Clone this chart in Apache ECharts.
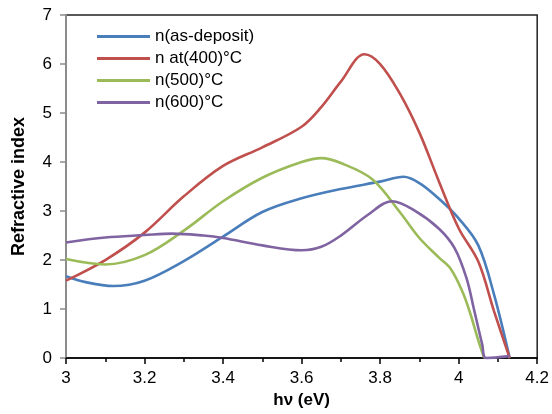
<!DOCTYPE html>
<html>
<head>
<meta charset="utf-8">
<script src="https://cdn.jsdelivr.net/npm/echarts@6/dist/echarts.min.js"></script>
<style>
html,body{margin:0;padding:0;background:#fff;}
#c{width:552px;height:414px;}
</style>
</head>
<body>
<div id="c"></div>
<script>
const seriesNames = ['n(as-deposit)', 'n at(400)°C', 'n(500)°C', 'n(600)°C'];
const colors = ['#4A7EBB', '#C0504D', '#9BBB59', '#8064A2'];

const xAsDep = [3.0, 3.05, 3.12, 3.2, 3.3, 3.4, 3.5, 3.6, 3.7, 3.8, 3.86, 3.9, 3.95, 4.0, 4.05, 4.09, 4.13];
const yAsDep = [1.67, 1.55, 1.47, 1.58, 1.98, 2.48, 2.98, 3.26, 3.45, 3.6, 3.7, 3.57, 3.25, 2.85, 2.3, 1.3, 0];

const x400 = [3.0, 3.1, 3.2, 3.3, 3.4, 3.5, 3.6, 3.65, 3.7, 3.76, 3.8, 3.85, 3.9, 3.95, 4.0, 4.05, 4.09, 4.13];
const y400 = [1.58, 2.0, 2.56, 3.3, 3.92, 4.3, 4.72, 5.12, 5.64, 6.2, 6.0, 5.4, 4.6, 3.6, 2.65, 1.97, 0.96, 0];

const x500 = [3.0, 3.1, 3.2, 3.3, 3.4, 3.5, 3.6, 3.65, 3.7, 3.78, 3.85, 3.9, 3.95, 3.98, 4.01, 4.03, 4.05, 4.065];
const y500 = [2.02, 1.91, 2.1, 2.6, 3.2, 3.68, 4.0, 4.08, 3.98, 3.65, 2.98, 2.45, 2.05, 1.82, 1.35, 0.9, 0.36, 0];

const x600 = [3.0, 3.1, 3.2, 3.27, 3.35, 3.4, 3.5, 3.6, 3.65, 3.7, 3.77, 3.83, 3.89, 3.95, 3.99, 4.02, 4.04, 4.06, 4.07, 4.13];
const y600 = [2.36, 2.46, 2.51, 2.54, 2.5, 2.45, 2.3, 2.2, 2.27, 2.5, 2.93, 3.2, 3.0, 2.64, 2.24, 1.63, 0.96, 0.28, 0, 0.04];

const xs = [xAsDep, x400, x500, x600];
const ys = [yAsDep, y400, y500, y600];

const chart = echarts.init(document.getElementById('c'), null, {renderer: 'canvas'});
const font = 'Liberation Sans, Arial, sans-serif';

chart.setOption({
  animation: false,
  backgroundColor: '#ffffff',
  grid: {left: 66, right: 14, top: 15, bottom: 53, show: true, borderColor: '#222', borderWidth: 1.5, backgroundColor: 'transparent'},
  legend: {
    data: seriesNames,
    orient: 'vertical',
    left: 92, top: 22,
    itemWidth: 53, itemHeight: 3, itemGap: 3,
    icon: 'rect',
    textStyle: {fontFamily: font, fontSize: 17, color: '#000', lineHeight: 19}
  },
  xAxis: {
    type: 'value', min: 3, max: 4.2, interval: 0.2,
    name: 'hν (eV)', nameLocation: 'middle', nameGap: 30,
    nameTextStyle: {fontFamily: font, fontSize: 17, fontWeight: 'bold', color: '#000'},
    axisLine: {show: true, lineStyle: {color: '#000', width: 1.5}},
    axisTick: {show: true, inside: false, length: 6, lineStyle: {color: '#000', width: 1.5}},
    minorTick: {show: true, splitNumber: 2, length: 4, lineStyle: {color: '#000', width: 1.5}},
    axisLabel: {fontFamily: font, fontSize: 17, color: '#000', margin: 12,
      formatter: v => String(Math.round(v * 10) / 10)},
    splitLine: {show: false}
  },
  yAxis: {
    type: 'value', min: 0, max: 7, interval: 1,
    name: 'Refractive index', nameLocation: 'middle', nameGap: 38,
    nameTextStyle: {fontFamily: font, fontSize: 18, fontWeight: 'bold', color: '#000'},
    axisLine: {show: true, lineStyle: {color: '#8c8c8c', width: 2}},
    axisTick: {show: true, inside: false, length: 6, lineStyle: {color: '#8c8c8c', width: 1.5}},
    axisLabel: {fontFamily: font, fontSize: 17, color: '#000', margin: 14},
    splitLine: {show: false}
  },
  series: seriesNames.map((n, i) => ({
    name: n,
    type: 'line',
    data: xs[i].map((x, j) => [x, ys[i][j]]),
    smooth: 0.35,
    showSymbol: false,
    symbol: 'none',
    clip: true,
    lineStyle: {color: colors[i], width: 2.6},
    itemStyle: {color: colors[i]}
  }))
});
</script>
</body>
</html>
